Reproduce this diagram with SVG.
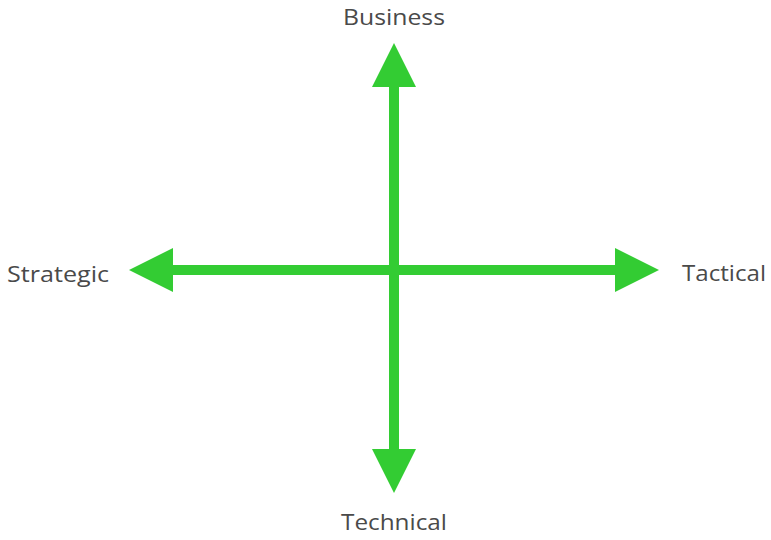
<svg xmlns="http://www.w3.org/2000/svg" width="771" height="540" viewBox="0 0 771 540">
<style>
.lbl{font-family:"Open Sans","Liberation Sans",sans-serif;font-size:21px;fill:#4a4a4a;text-anchor:middle}
.axis{stroke:#33cc33;stroke-width:10;fill:none}
.head{fill:#33cc33}
</style>
<rect width="771" height="540" fill="#ffffff"/>
<g id="connectors">
<line class="axis" x1="394" y1="85" x2="394" y2="451"/>
<line class="axis" x1="171" y1="270" x2="617" y2="270"/>
<polygon class="head" points="394,43 416,87 372,87"/>
<polygon class="head" points="394,493 416,449 372,449"/>
<polygon class="head" points="129,270 173,248 173,292"/>
<polygon class="head" points="659,270 615,248 615,292"/>
</g>
<g id="business"><text class="lbl" x="394" y="25" textLength="102" lengthAdjust="spacingAndGlyphs">Business</text></g>
<g id="technical"><text class="lbl" x="394" y="530" textLength="106" lengthAdjust="spacingAndGlyphs">Technical</text></g>
<g id="strategic"><text class="lbl" x="58" y="282" textLength="102" lengthAdjust="spacingAndGlyphs">Strategic</text></g>
<g id="tactical"><text class="lbl" x="724" y="281" textLength="84" lengthAdjust="spacingAndGlyphs">Tactical</text></g>
</svg>
